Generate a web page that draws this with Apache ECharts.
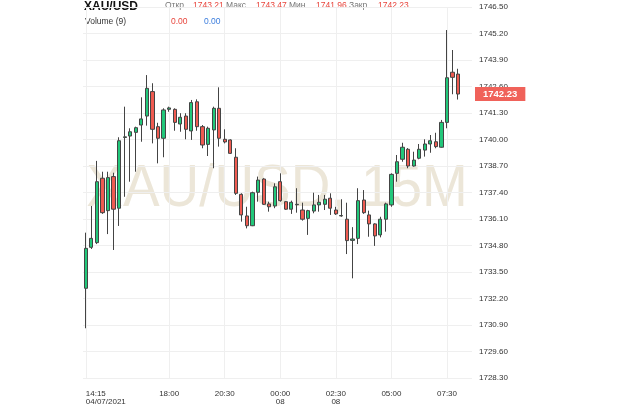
<!DOCTYPE html>
<html><head><meta charset="utf-8">
<script src="https://cdn.jsdelivr.net/npm/echarts@6/dist/echarts.min.js"></script>
<style>html,body{margin:0;padding:0;background:#fff}#c{width:620px;height:409px}</style>
</head><body><div id="c"></div>
<script>
const symbolName = 'XAU/USD';
const watermark = 'XAU/USD, 15M';
const times = [
 '14:15','14:30','14:45','15:00','15:15','15:30','15:45','16:00','16:15','16:30','16:45','17:00','17:15','17:30','17:45',
 '18:00','18:15','18:30','18:45','19:00','19:15','19:30','19:45','20:00','20:15',
 '20:30','20:45','21:00','21:15','21:30','21:45','22:00','22:15','22:30','22:45',
 '00:00','00:15','00:30','00:45','01:00','01:15','01:30','01:45','02:00','02:15',
 '02:30','02:45','03:00','03:15','03:30','03:45','04:00','04:15','04:30','04:45',
 '05:00','05:15','05:30','05:45','06:00','06:15','06:30','06:45','07:00','07:15',
 '07:30','07:45','08:00','',''
];
const openVals = [
 1732.70,1734.71,1734.94,1738.10,1736.51,1738.18,1736.63,1740.10,1740.17,1740.35,
 1740.71,1741.15,1742.35,1740.63,1740.06,1741.48,1741.48,1740.76,1741.15,1740.42,
 1741.85,1740.63,1739.76,1740.47,1741.53,1740.01,1739.98,1739.13,1737.31,1736.25,
 1735.77,1737.41,1738.06,1736.84,1736.74,1737.93,1736.95,1736.58,1736.80,1736.54,
 1736.13,1736.49,1736.79,1736.82,1737.12,1736.54,1736.25,1736.09,1735.05,1735.15,
 1737.03,1736.30,1735.86,1735.32,1736.09,1736.79,1738.34,1739.03,1739.52,1738.70,
 1739.08,1739.48,1739.78,1739.89,1739.62,1740.84,1743.30,1743.21
];
const closeVals = [
 1734.66,1735.15,1737.93,1736.41,1738.13,1736.58,1739.94,1740.13,1740.38,1740.58,
 1741.01,1742.51,1740.50,1740.06,1741.45,1741.55,1740.84,1741.09,1740.50,1741.81,
 1740.63,1739.73,1740.55,1741.53,1740.06,1739.88,1739.32,1737.36,1736.30,1735.77,
 1737.39,1738.01,1736.82,1736.70,1737.68,1737.00,1736.58,1736.92,1736.82,1736.09,
 1736.51,1736.79,1736.92,1737.07,1736.63,1736.35,1736.27,1735.04,1735.12,1737.00,
 1736.41,1735.86,1735.27,1736.09,1736.84,1738.29,1738.91,1739.62,1738.70,1738.99,
 1739.52,1739.78,1739.94,1739.65,1740.84,1743.03,1743.05,1742.23
];
const lowVals = [
 1730.74,1734.63,1734.87,1736.35,1735.36,1734.58,1735.76,1737.19,1737.93,1738.42,
 1739.89,1740.68,1739.81,1738.83,1739.13,1741.36,1740.43,1740.38,1740.01,1739.98,
 1740.43,1739.57,1739.19,1738.59,1739.65,1739.81,1739.29,1737.28,1735.97,1735.64,
 1735.75,1736.95,1736.79,1736.46,1736.63,1736.95,1736.55,1736.35,1736.41,1736.02,
 1735.32,1736.38,1736.46,1736.54,1736.30,1736.30,1736.21,1734.38,1733.19,1734.87,
 1736.35,1735.23,1734.78,1735.20,1735.48,1736.70,1737.93,1738.91,1738.59,1738.67,
 1739.03,1739.16,1739.35,1739.57,1739.60,1740.55,1742.22,1741.96
];
const highVals = [
 1735.43,1736.74,1738.95,1738.42,1738.42,1738.37,1740.11,1741.61,1740.55,1740.63,
 1742.07,1743.16,1742.76,1740.82,1741.53,1741.61,1741.53,1741.29,1741.29,1741.94,
 1741.97,1740.71,1740.63,1741.61,1742.56,1740.50,1740.01,1739.57,1737.36,1736.70,
 1737.44,1738.18,1738.10,1736.95,1737.85,1738.34,1736.97,1737.00,1737.61,1736.90,
 1736.55,1737.39,1737.28,1737.28,1737.36,1736.70,1737.07,1736.90,1735.70,1737.61,
 1737.52,1736.51,1735.89,1736.21,1736.90,1738.34,1739.24,1739.84,1739.58,1739.40,
 1739.78,1740.01,1740.22,1740.33,1740.96,1745.37,1744.39,1743.47
];
const tickIndex = [0,15,25,35,45,55,65];
const tickLabels = ['14:15\n04/07/2021','18:00','20:30','00:00\n08','02:30\n08','05:00','07:30'];
const yMin = 1728.30, yMax = 1746.50, yStep = 1.30;
const volumeLabel = 'Volume (9)';
const volumeVals = ['0.00','0.00'];

const candles = times.map((t, i) => i < openVals.length
  ? [openVals[i], closeVals[i], lowVals[i], highVals[i]] : '-');
const last = openVals.length - 1;
const FONT = 'Liberation Sans, Arial, sans-serif';
const RED = '#e8453c';

const chart = echarts.init(document.getElementById('c'), null, {renderer: 'canvas'});
const headerItems = [
  {t: 'Откр.', x: 165, c: '#777'}, {t: openVals[last].toFixed(2), x: 193, c: RED},
  {t: 'Макс.', x: 226, c: '#777'}, {t: highVals[last].toFixed(2), x: 256, c: RED},
  {t: 'Мин.', x: 289, c: '#777'}, {t: lowVals[last].toFixed(2), x: 316, c: RED},
  {t: 'Закр.', x: 349, c: '#777'}, {t: closeVals[last].toFixed(2), x: 378, c: RED}
];
const graphics = [
  {type: 'text', x: 277, y: 189, z: -10, scaleX: 0.915,
   style: {text: watermark, font: '60px ' + FONT, fill: '#ece6d8', align: 'center', verticalAlign: 'middle'}},
  {type: 'text', x: 84, y: 7, style: {text: symbolName, font: 'bold 12px ' + FONT, fill: '#111', verticalAlign: 'middle'}},
  {type: 'text', x: 85, y: 22, style: {text: volumeLabel, font: '8.5px ' + FONT, fill: '#333', verticalAlign: 'middle'}},
  {type: 'text', x: 171, y: 22, style: {text: volumeVals[0], font: '8.5px ' + FONT, fill: RED, verticalAlign: 'middle'}},
  {type: 'text', x: 204, y: 22, style: {text: volumeVals[1], font: '8.5px ' + FONT, fill: '#3b7ddd', verticalAlign: 'middle'}}
].concat(headerItems.map(h => ({type: 'text', x: h.x, y: 6,
  style: {text: h.t, font: '8.5px ' + FONT, fill: h.c, verticalAlign: 'middle'}})));

const showIdx = (i) => tickIndex.indexOf(i) >= 0;
chart.setOption({
  animation: false,
  backgroundColor: '#fff',
  graphic: {elements: graphics},
  grid: {left: 83, right: 148, top: 7, bottom: 31, containLabel: false},
  xAxis: {
    type: 'category', data: times, boundaryGap: true,
    axisLine: {show: false}, axisTick: {show: false},
    axisLabel: {
      interval: (i) => showIdx(i),
      formatter: (v, i) => showIdx(i) ? tickLabels[tickIndex.indexOf(i)] : '',
      fontSize: 8, lineHeight: 8, color: '#333', margin: 12, fontFamily: FONT,
      alignMinLabel: 'left'
    },
    splitLine: {show: true, interval: (i) => showIdx(i), alignWithLabel: true, lineStyle: {color: '#efefef'}}
  },
  yAxis: {
    type: 'value', position: 'right', min: yMin, max: yMax, interval: yStep,
    axisLine: {show: false}, axisTick: {show: false},
    axisLabel: {formatter: (v) => v.toFixed(2), fontSize: 8, color: '#333', margin: 7, fontFamily: FONT},
    splitLine: {show: true, lineStyle: {color: '#efefef'}}
  },
  series: [{
    type: 'candlestick', data: candles, barWidth: '66%',
    itemStyle: {color: '#22c77a', color0: '#ef5b51', borderColor: '#444', borderColor0: '#444', borderWidth: 1},
    markLine: {
      symbol: 'none', silent: true, animation: false,
      lineStyle: {color: 'rgba(0,0,0,0)', width: 0},
      label: {position: 'end', distance: 3, formatter: () => closeVals[last].toFixed(2),
        backgroundColor: '#f0625a', color: '#fff', fontWeight: 'bold', fontSize: 9.5,
        padding: [2, 8, 2, 8], fontFamily: FONT},
      data: [{yAxis: closeVals[last]}]
    }
  }]
});
</script></body></html>
